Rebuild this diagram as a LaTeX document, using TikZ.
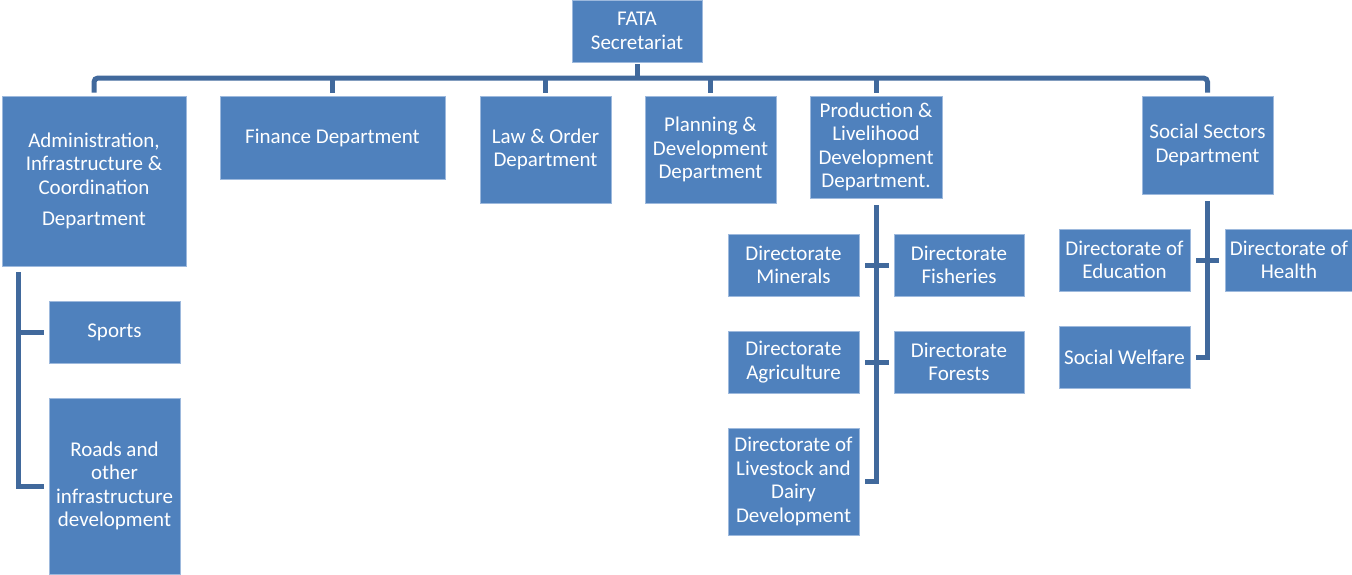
\documentclass[tikz,border=0pt]{standalone}
\usepackage{fontspec}
\setmainfont{Carlito}
\definecolor{boxfill}{HTML}{4F81BD}
\definecolor{boxedge}{HTML}{9DB9DD}
\definecolor{linecol}{HTML}{41699C}
\tikzset{
  box/.style={rectangle, fill=boxfill, draw=boxedge, line width=0.8pt, inner sep=0pt, align=center, text=white,
    font=\fontsize{21}{23.5}\selectfont},
  conn/.style={draw=linecol, line width=5pt},
}
\begin{document}
\begin{tikzpicture}[x=1pt,y=-1pt]
\useasboundingbox (0,0) rectangle (1352,574);
% top level
\node[box, minimum width=130, minimum height=62] (fata) at (637,31) {FATA\\Secretariat};
\node[box, minimum width=184, minimum height=170] (admin) at (94,181) {Administration,\\Infrastructure \&\\Coordination\\[8pt]Department};
\node[box, minimum width=225, minimum height=83] (finance) at (332.5,137.5) {Finance Department};
\node[box, minimum width=131, minimum height=107] (law) at (545.5,149.5) {Law \& Order\\Department};
\node[box, minimum width=131, minimum height=107] (plan) at (710.5,149.5) {Planning \&\\Development\\Department};
\node[box, minimum width=132, minimum height=102] (prod) at (876,147) {Production \&\\Livelihood\\Development\\Department.};
\node[box, minimum width=131, minimum height=98] (social) at (1207.5,145) {Social Sectors\\Department};
% admin children
\node[box, minimum width=131, minimum height=62] (sports) at (114.5,332) {Sports};
\node[box, minimum width=131, minimum height=176] (roads) at (114.5,486) {Roads and\\other\\infrastructure\\development};
% production children
\node[box, minimum width=131, minimum height=62] (minerals) at (793.5,265) {Directorate\\Minerals};
\node[box, minimum width=130, minimum height=62] (fisheries) at (959,265) {Directorate\\Fisheries};
\node[box, minimum width=131, minimum height=62] (agri) at (793.5,362) {Directorate\\Agriculture};
\node[box, minimum width=130, minimum height=62] (forests) at (959,362) {Directorate\\Forests};
\node[box, minimum width=131, minimum height=107] (livestock) at (793.5,481.5) {Directorate of\\Livestock and\\Dairy\\Development};
% social children
\node[box, minimum width=131, minimum height=62] (edu) at (1124.5,260) {Directorate of\\Education};
\node[box, minimum width=128, minimum height=62] (health) at (1289,260) {Directorate of\\Health};
\node[box, minimum width=131, minimum height=62] (welfare) at (1124.5,357) {Social Welfare};
% connectors: top bar
\coordinate (bar) at (0,78);
\draw[conn] ([yshift=-2]fata.south) -- (fata.south |- bar);
\draw[conn, rounded corners=4pt] ([yshift=3]admin.north) -- (admin.north |- bar) -- (social.north |- bar) -- ([yshift=3]social.north);
\foreach \n in {finance,law,plan,prod}{
  \draw[conn] (\n.north |- bar) -- ([yshift=3]\n.north);
}
% admin branch
\coordinate (av) at (18,272);
\draw[conn] (av) |- ([xshift=-5]roads.west);
\draw[conn] (av |- sports.west) -- ([xshift=-5]sports.west);
% production branch
\draw[conn] ([yshift=-7]prod.south) |- ([xshift=6]livestock.east);
\draw[conn] ([xshift=6]minerals.east) -- ([xshift=-5]fisheries.west);
\draw[conn] ([xshift=6]agri.east) -- ([xshift=-5]forests.west);
% social branch
\draw[conn] ([yshift=-7]social.south) |- ([xshift=6]welfare.east);
\draw[conn] ([xshift=6]edu.east) -- ([xshift=-6]health.west);
\end{tikzpicture}
\end{document}
